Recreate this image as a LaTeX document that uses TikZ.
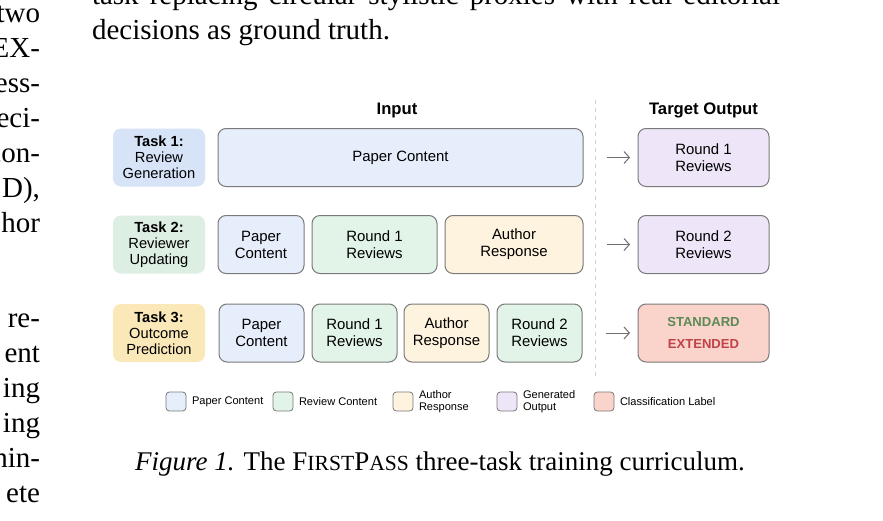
\documentclass[tikz,border=0pt]{standalone}
\usepackage{fontspec}
\setmainfont{Liberation Serif}
\newfontfamily\diagfont{Liberation Sans}
\usetikzlibrary{arrows.meta,positioning}

\definecolor{edge}{HTML}{7A7A7A}
\definecolor{paperfill}{HTML}{E6EEFB}
\definecolor{reviewfill}{HTML}{E2F3E8}
\definecolor{authorfill}{HTML}{FDF3DE}
\definecolor{genfill}{HTML}{EEE6F8}
\definecolor{labelfill}{HTML}{FAD3CA}
\definecolor{taskone}{HTML}{D7E4F8}
\definecolor{tasktwo}{HTML}{DDEEE3}
\definecolor{taskthree}{HTML}{FBE8B8}
\definecolor{stdgreen}{HTML}{5B8A56}
\definecolor{extred}{HTML}{BF4348}
\definecolor{arrowgray}{HTML}{707070}
\definecolor{divgray}{HTML}{CFCFCF}

\newcommand{\fakesc}[1]{{\fontsize{16.2}{20}\selectfont #1}}

\begin{document}
\begin{tikzpicture}[x=0.75pt, y=-0.75pt,
    every node/.style={inner sep=0pt, outer sep=0pt},
    box/.style={draw=edge, line width=0.75pt, rounded corners=6pt, align=center,
        minimum height=43.5pt, font=\diagfont\fontsize{11.2}{12.8}\selectfont},
    task/.style={rounded corners=6pt, align=center, minimum width=69pt,
        minimum height=43.5pt, font=\diagfont\fontsize{11}{12}\selectfont},
    head/.style={font=\diagfont\bfseries\fontsize{12.5}{15}\selectfont},
    key/.style={draw=edge, line width=0.6pt, rounded corners=2.5pt,
        minimum width=15pt, minimum height=14.25pt},
    keytext/.style={anchor=west, align=left, font=\diagfont\fontsize{8.3}{9.5}\selectfont},
    arr/.style={->, >={Straight Barb[length=4pt,width=9pt]}, draw=arrowgray,
        line width=0.75pt, shorten <=18pt, shorten >=6pt},
    body/.style={font=\fontsize{21.75}{26.25}\selectfont}
]
\clip (0,0) rectangle (883,521);
\fill[white] (0,0) rectangle (883,521);

% page text around the figure
\foreach \y/\w [count=\i] in {22/two, 57/EX-, 92/ess-, 127/eci-, 162/con-, 197/{D),},
    232/hor, 327/re-, 362/ent, 397/ing, 432/ing, 467/nin-, 502/ete}
    \node[body, anchor=base east] (left\i) at (40,\y) {\w};
\node[body, anchor=base west] (line1) at (92,4)
    {\makebox[516pt][s]{task replacing circular stylistic proxies with real editorial}};
\node[body, anchor=base west] (line2) at (92,39) {decisions as ground truth.};

% headers and divider
\node[head] (input) at (397,110) {Input};
\node[head] (target) at (703.5,110) {Target Output};
\draw[divgray, line width=0.75pt, dash pattern=on 3pt off 3pt] (595,100) -- (595,376);

% task labels
\node[task, fill=taskone] (task1) at (159,157.5) {\textbf{Task 1:}\\Review\\Generation};
\node[task, fill=tasktwo] (task2) at (159,244.5) {\textbf{Task 2:}\\Reviewer\\Updating};
\node[task, fill=taskthree] (task3) at (159,333) {\textbf{Task 3:}\\Outcome\\Prediction};

% task 1
\node[box, fill=paperfill, minimum width=273.75pt] (paper1) at (400.5,157.5) {Paper Content};
\node[box, fill=genfill, minimum width=98.25pt] (out1) at (703.5,157.5) {Round 1\\Reviews};
\draw[arr] (paper1.east) -- (out1.west);

% task 2
\node[box, fill=paperfill, minimum width=64.5pt] (paper2) at (261,244.5) {Paper\\Content};
\node[box, fill=reviewfill, minimum width=93.75pt] (round2a) at (374.5,244.5) {Round 1\\Reviews};
\node[box, fill=authorfill, minimum width=103.5pt] (author2) at (514,244.5) {Author\\Response};
\node[box, fill=genfill, minimum width=98.25pt] (out2) at (703.5,244.5) {Round 2\\Reviews};
\draw[arr] (author2.east) -- (out2.west);

% task 3
\node[box, fill=paperfill, minimum width=63.75pt] (paper3) at (261.5,333) {Paper\\Content};
\node[box, fill=reviewfill, minimum width=63.75pt] (round3a) at (354.5,333) {Round 1\\Reviews};
\node[box, fill=authorfill, minimum width=63.75pt] (author3) at (446.5,333) {Author\\Response};
\node[box, fill=reviewfill, minimum width=63.75pt] (round3b) at (539.5,333) {Round 2\\Reviews};
\node[box, fill=labelfill, minimum width=98.25pt,
    font=\diagfont\bfseries\fontsize{9.8}{16.5}\selectfont] (out3) at (703.5,333)
    {\textcolor{stdgreen}{STANDARD}\\\textcolor{extred}{EXTENDED}};
\draw[arr] (round3b.east) -- (out3.west);

% legend
\foreach \x/\c/\t [count=\i] in {176/paperfill/Paper Content, 283/reviewfill/Review Content,
    403/authorfill/{Author\\Response}, 507/genfill/{Generated\\Output},
    604/labelfill/Classification Label} {
    \node[key, fill=\c] (key\i) at (\x,401.5) {};
    \node[keytext, right=4.5pt of key\i] (keylbl\i) {\t};
}

% caption
\node[font=\fontsize{20.25}{24}\selectfont, anchor=base] (caption) at (440,470)
    {\textit{Figure 1.} The F\fakesc{IRST}P\fakesc{ASS} three-task training curriculum.};
\end{tikzpicture}
\end{document}
